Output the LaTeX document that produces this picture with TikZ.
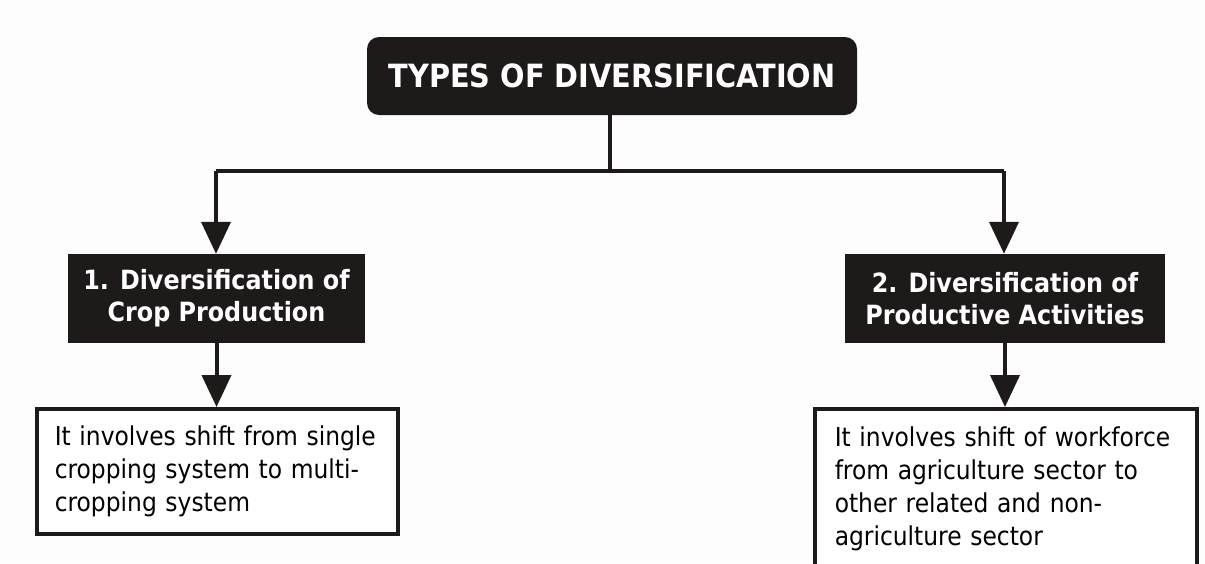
\documentclass[tikz,border=0pt]{standalone}
\usepackage{fontspec}
\setmainfont{DejaVu Sans Condensed}
\usetikzlibrary{arrows.meta}
\definecolor{ink}{HTML}{1E1A1A}
\definecolor{paper}{HTML}{FDFDFD}
\begin{document}
\begin{tikzpicture}[x=1pt,y=-1pt,
  titlebox/.style={fill=ink, rounded corners=12pt, minimum width=490pt, minimum height=78pt,
    text=white, font=\bfseries\fontsize{32}{38}\selectfont, inner sep=0pt},
  headbox/.style={fill=ink, minimum height=89pt, text=white, align=center,
    font=\bfseries\fontsize{26.5}{32}\selectfont, inner sep=0pt},
  descbox/.style={draw=ink, line width=3.5pt, fill=white, anchor=north west, align=left,
    font=\fontsize{26}{33}\selectfont, inner ysep=8pt},
  conn/.style={draw=ink, line width=4pt},
  arr/.style={conn, -{Triangle[width=29pt,length=32pt]}}]
\clip (0,0) rectangle (1205,563);
\fill[paper] (0,0) rectangle (1205,563);

\node[titlebox] (title) at (612,76) {TYPES OF DIVERSIFICATION};

\node[headbox, minimum width=297pt] (h1) at (216.5,298.5) {1. Diversification of\\Crop Production};
\node[headbox, minimum width=320pt] (h2) at (1005,298.5) {2. Diversification of\\Productive Activities};

\node[descbox, minimum height=125pt, text width=325pt, inner xsep=18pt] (d1) at (35,407)
  {It involves shift from single\\cropping system to multi-\\cropping system};
\node[descbox, minimum height=160pt, text width=342pt, inner xsep=20pt] (d2) at (813,407)
  {It involves shift of workforce\\from agriculture sector to\\other related and non-\\agriculture sector};

\coordinate (j) at (610,171);
\coordinate (jl) at (216,171);
\coordinate (jr) at (1004,171);
\draw[conn] (title.south -| j) -- (j);
\draw[conn, line join=miter] (jl) -- (jr);
\draw[arr] (jl) -- (jl |- h1.north);
\draw[arr] (jr) -- (jr |- h2.north);
\draw[arr] (h1.south) -- (h1.south |- d1.north);
\draw[arr] (h2.south) -- (h2.south |- d2.north);
\end{tikzpicture}
\end{document}
